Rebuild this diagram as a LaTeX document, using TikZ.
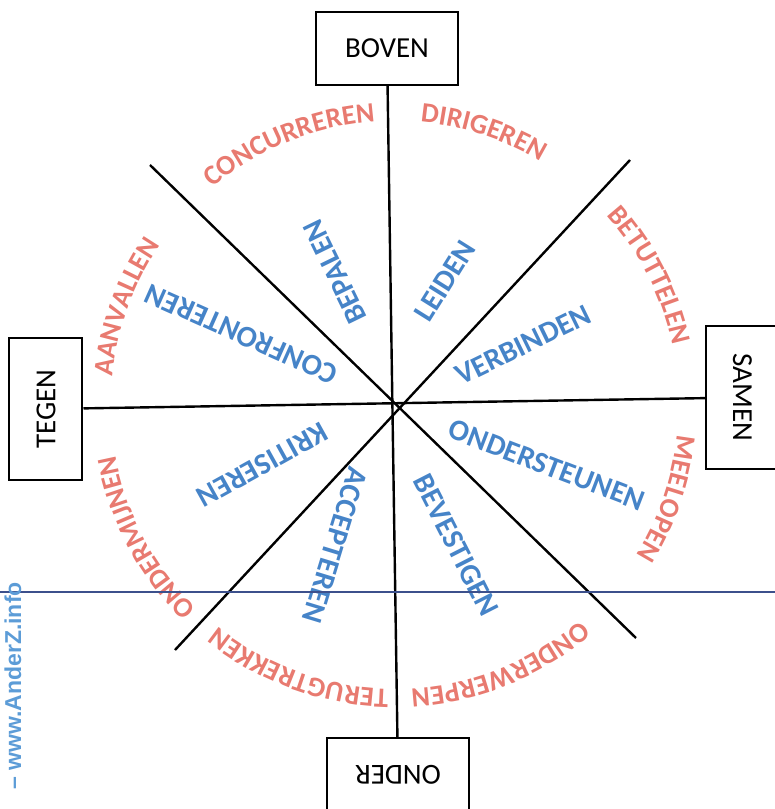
\documentclass[tikz,border=0pt]{standalone}
\usepackage{fontspec}
\setmainfont{Carlito}
\newfontfamily\webfont{Liberation Sans}
\usetikzlibrary{decorations.text}
\definecolor{roosrood}{RGB}{232,122,112}
\definecolor{roosblauw}{RGB}{70,132,200}
\definecolor{webblauw}{RGB}{92,156,215}
\definecolor{kantlijn}{RGB}{60,80,140}
\newcommand{\buitenfont}{\fontsize{14}{14}\selectfont\bfseries\color{roosrood}}
\begin{document}
\begin{tikzpicture}
[x=0.5pt,y=0.5pt,
 as/.style={draw=black, line width=1pt, fill=white, inner sep=0pt,
   minimum width=71pt, minimum height=36.5pt, font=\fontsize{14.5}{15}\selectfont},
 lijn/.style={draw=black, line width=1.2pt},
 gedrag/.style={text=roosblauw, font=\fontsize{15}{15}\selectfont\bfseries, inner sep=0pt},
 buiten/.style={decorate, decoration={text along path, text align=center, text={|\buitenfont|#1}}},
 web/.style={text=webblauw, font=\webfont\bfseries\fontsize{11.5}{12}\selectfont, inner sep=0pt}]
\useasboundingbox (-395,-404) rectangle (380,405);
\clip (-395,-404) rectangle (380,405);
% assen van de roos
\node[as] (boven) at (-8,356.5) {BOVEN};
\node[as, rotate=90] (tegen) at (-349,-4) {TEGEN};
\node[as, rotate=-90] (samen) at (347.5,7.5) {SAMEN};
\node[as, rotate=180] (onder) at (3,-369.5) {ONDER};
\coordinate (nw) at (-245,240);
\coordinate (zo) at (241,-233);
\coordinate (no) at (235,245);
\coordinate (zw) at (-220,-245);
\draw[lijn] (boven) -- (onder);
\draw[lijn] (tegen) -- (samen);
\draw[lijn] (nw) -- (zo);
\draw[lijn] (no) -- (zw);
% binnenring
\foreach \x/\y/\hoek/\woord in {50/124/58/LEIDEN, -60/133/116/BEPALEN,
  -154/71/156/CONFRONTEREN, -133/-60/209/KRITISEREN, -60/-140/-107/ACCEPTEREN,
  61/-140/-63/BEVESTIGEN, 152/-60/-21/ONDERSTEUNEN, 128/60/26/VERBINDEN}
{
  \node[gedrag, rotate=\hoek] (\woord) at (\x,\y) {\woord};
}
% buitenring
\foreach \hoek/\woord in {112/CONCURREREN, 72/DIRIGEREN, 27/BETUTTELEN,
  -19/MEELOPEN, -68/ONDERWERPEN, -110/TERUGTREKKEN, -152/ONDERMIJNEN, 160/AANVALLEN}
{
  \path[buiten/.expanded=\woord] ({\hoek+40}:284) arc[start angle={\hoek+40}, delta angle=-80, radius=284];
}
% kantlijn en bron
\coordinate (kl) at (-395,-187);
\coordinate (kr) at (380,-187);
\draw[kantlijn, line width=0.8pt] (kl) -- (kr);
\node[web, rotate=90] (bron) at (-382,-281) {– www.AnderZ.info};
\end{tikzpicture}
\end{document}
